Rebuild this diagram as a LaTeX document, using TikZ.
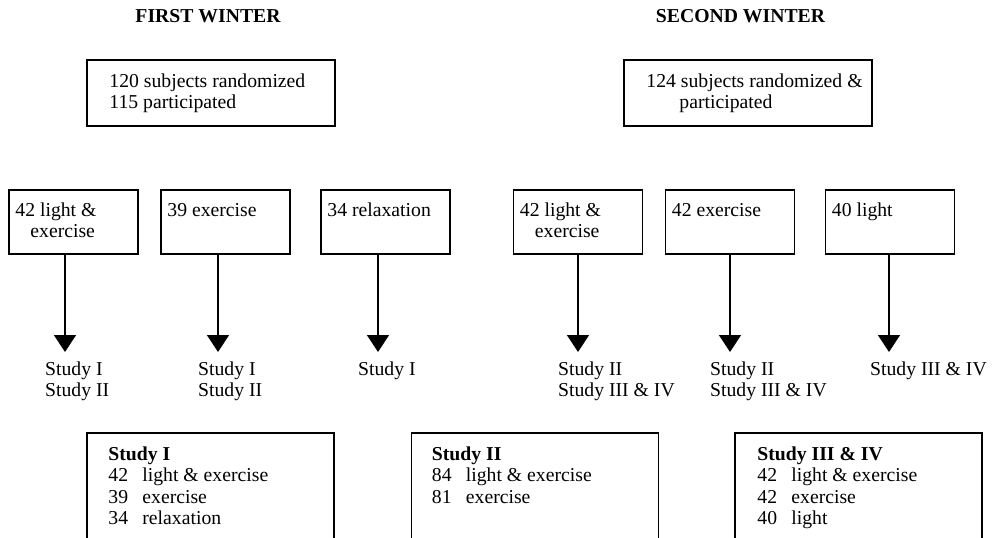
\documentclass[tikz,border=0pt]{standalone}
\usepackage{fontspec}
\setmainfont{Liberation Serif}
\usetikzlibrary{arrows.meta}
\tikzset{
  winterhead/.style={font=\fontsize{19.7}{21.5}\selectfont\bfseries, anchor=base, inner sep=0pt},
  topbox/.style={draw, line width=1.5pt, minimum width=248pt, minimum height=66pt, inner sep=0pt},
  armbox/.style={draw, line width=1.5pt, minimum width=129pt, minimum height=64pt, inner sep=0pt},
  studybox/.style={draw, line width=1.5pt, minimum width=247pt, minimum height=160pt, anchor=north, inner sep=0pt},
  boxtext/.style={anchor=base west, inner sep=0pt},
  flow/.style={line width=1.5pt, -{Triangle[width=22pt,length=17pt]}},
}
\newcommand{\rows}[1]{\begin{tabular}[t]{@{}l@{}}#1\end{tabular}}
\newcommand{\grp}[2]{\makebox[34pt][l]{#1}#2}
\begin{document}
\begin{tikzpicture}[x=1pt, y=-1pt, font=\fontsize{19.7}{21.5}\selectfont]
	\clip (0,0) rectangle (994,538);
	% headings
	\node[winterhead] (first) at (208,23) {FIRST WINTER};
	\node[winterhead] (second) at (740.5,23) {SECOND WINTER};
	% randomization
	\node[topbox] (rand1) at (211,93) {};
	\node[boxtext] (rand1txt) at ([shift={(23,28)}]rand1.north west) {\rows{120 subjects randomized\\115 participated}};
	\node[topbox] (rand2) at (748,93) {};
	\node[boxtext] (rand2txt) at ([shift={(23,28)}]rand2.north west) {\rows{124 subjects randomized \&\\\hspace{33pt}participated}};
	% groups, first winter
	\node[armbox] (lexA) at (73.5,222) {};
	\node[boxtext] (lexAtxt) at ([shift={(7,27)}]lexA.north west) {\rows{42 light \&\\\hspace{15pt}exercise}};
	\node[armbox] (exA) at (225.5,222) {};
	\node[boxtext] (exAtxt) at ([shift={(7,27)}]exA.north west) {39 exercise};
	\node[armbox] (relA) at (385.5,222) {};
	\node[boxtext] (relAtxt) at ([shift={(7,27)}]relA.north west) {34 relaxation};
	% groups, second winter
	\node[armbox] (lexB) at (578,222) {};
	\node[boxtext] (lexBtxt) at ([shift={(7,27)}]lexB.north west) {\rows{42 light \&\\\hspace{15pt}exercise}};
	\node[armbox] (exB) at (730,222) {};
	\node[boxtext] (exBtxt) at ([shift={(7,27)}]exB.north west) {42 exercise};
	\node[armbox] (liB) at (890,222) {};
	\node[boxtext] (liBtxt) at ([shift={(7,27)}]liB.north west) {40 light};
	% arrow tips
	\coordinate (lexAtip) at (65,352);
	\coordinate (exAtip) at (218,352);
	\coordinate (relAtip) at (378,352);
	\coordinate (lexBtip) at (578,352);
	\coordinate (exBtip) at (730,352);
	\coordinate (liBtip) at (889,352);
	\foreach \g in {lexA,exA,relA,lexB,exB,liB}
		\draw[flow] (\g.south -| \g tip) -- (\g tip);
	% where each group went
	\node[boxtext] (lexAlbl) at ([shift={(-20,23)}]lexAtip) {\rows{Study I\\Study II}};
	\node[boxtext] (exAlbl) at ([shift={(-20,23)}]exAtip) {\rows{Study I\\Study II}};
	\node[boxtext] (relAlbl) at ([shift={(-20,23)}]relAtip) {Study I};
	\node[boxtext] (lexBlbl) at ([shift={(-20,23)}]lexBtip) {\rows{Study II\\Study III \& IV}};
	\node[boxtext] (exBlbl) at ([shift={(-20,23)}]exBtip) {\rows{Study II\\Study III \& IV}};
	\node[boxtext] (liBlbl) at ([shift={(-19,23)}]liBtip) {Study III \& IV};
	% studies
	\node[studybox] (st1) at (210.5,432) {};
	\node[boxtext] (st1txt) at ([shift={(22,28)}]st1.north west) {\rows{\textbf{Study I}\\\grp{42}{light \& exercise}\\\grp{39}{exercise}\\\grp{34}{relaxation}}};
	\node[studybox] (st2) at (535,432) {};
	\node[boxtext] (st2txt) at ([shift={(21,28)}]st2.north west) {\rows{\textbf{Study II}\\\grp{84}{light \& exercise}\\\grp{81}{exercise}}};
	\node[studybox] (st3) at (858.5,432) {};
	\node[boxtext] (st3txt) at ([shift={(23,28)}]st3.north west) {\rows{\textbf{Study III \& IV}\\\grp{42}{light \& exercise}\\\grp{42}{exercise}\\\grp{40}{light}}};
\end{tikzpicture}
\end{document}
